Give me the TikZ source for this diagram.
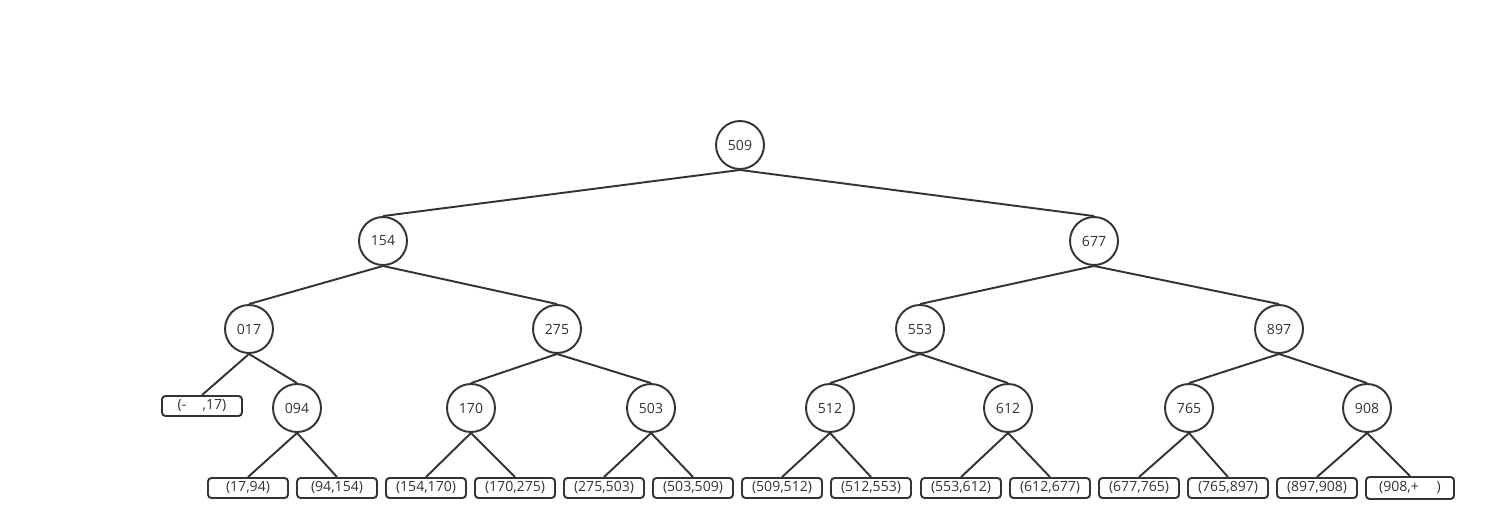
\documentclass[tikz,border=0pt]{standalone}
\usepackage{fontspec}
\setmainfont{Open Sans}
\usepackage{tikz}
\usetikzlibrary{positioning}
\definecolor{treegray}{HTML}{333333}

\begin{document}
\begin{tikzpicture}[
  x=0.02cm, y=-0.02cm,
  keynode/.style={circle, draw=treegray, line width=1.1pt, minimum size=0.96cm,
              inner sep=0pt, font=\fontsize{8}{9}\selectfont, text=treegray},
  leafbox/.style={rectangle, rounded corners=2pt, draw=treegray, line width=1.1pt,
                minimum width=1.6cm, minimum height=0.4cm, inner sep=0pt,
                font=\fontsize{8}{9}\selectfont, text=treegray},
  treeline/.style={draw=treegray, line width=1.1pt}
]
  \useasboundingbox (0,0) rectangle (1486,531);

  % inner nodes
  \node[keynode] (k509) at (740,145) {509};
  \node[keynode] (k154) at (383,241) {154};
  \node[keynode] (k677) at (1094,241) {677};
  \node[keynode] (k017) at (249,329) {017};
  \node[keynode] (k275) at (557,329) {275};
  \node[keynode] (k553) at (920,329) {553};
  \node[keynode] (k897) at (1279,329) {897};
  \node[keynode] (k094) at (297,408) {094};
  \node[keynode] (k170) at (471,408) {170};
  \node[keynode] (k503) at (651,408) {503};
  \node[keynode] (k512) at (830,408) {512};
  \node[keynode] (k612) at (1008,408) {612};
  \node[keynode] (k765) at (1189,408) {765};
  \node[keynode] (k908) at (1367,408) {908};

  % leaves
  \node[leafbox] (r0) at (202,406) {(-\quad\,,17)};
  \node[leafbox] (r1) at (248,488) {(17,94)};
  \node[leafbox] (r2) at (337,488) {(94,154)};
  \node[leafbox] (r3) at (426,488) {(154,170)};
  \node[leafbox] (r4) at (515,488) {(170,275)};
  \node[leafbox] (r5) at (604,488) {(275,503)};
  \node[leafbox] (r6) at (693,488) {(503,509)};
  \node[leafbox] (r7) at (782,488) {(509,512)};
  \node[leafbox] (r8) at (871,488) {(512,553)};
  \node[leafbox] (r9) at (961,488) {(553,612)};
  \node[leafbox] (r10) at (1050,488) {(612,677)};
  \node[leafbox] (r11) at (1139,488) {(677,765)};
  \node[leafbox] (r12) at (1228,488) {(765,897)};
  \node[leafbox] (r13) at (1317,488) {(897,908)};
  \node[leafbox, minimum width=1.76cm, minimum height=0.44cm] (r14) at (1410,488) {(908,+\quad\ )};

  % edges
  \foreach \p/\c in {k509/k154, k509/k677, k154/k017, k154/k275, k677/k553,
                     k677/k897, k017/r0, k017/k094, k275/k170, k275/k503,
                     k553/k512, k553/k612, k897/k765, k897/k908,
                     k094/r1, k094/r2, k170/r3, k170/r4, k503/r5, k503/r6,
                     k512/r7, k512/r8, k612/r9, k612/r10, k765/r11, k765/r12,
                     k908/r13, k908/r14}
    \draw[treeline] (\p.south) -- (\c.north);
\end{tikzpicture}
\end{document}
